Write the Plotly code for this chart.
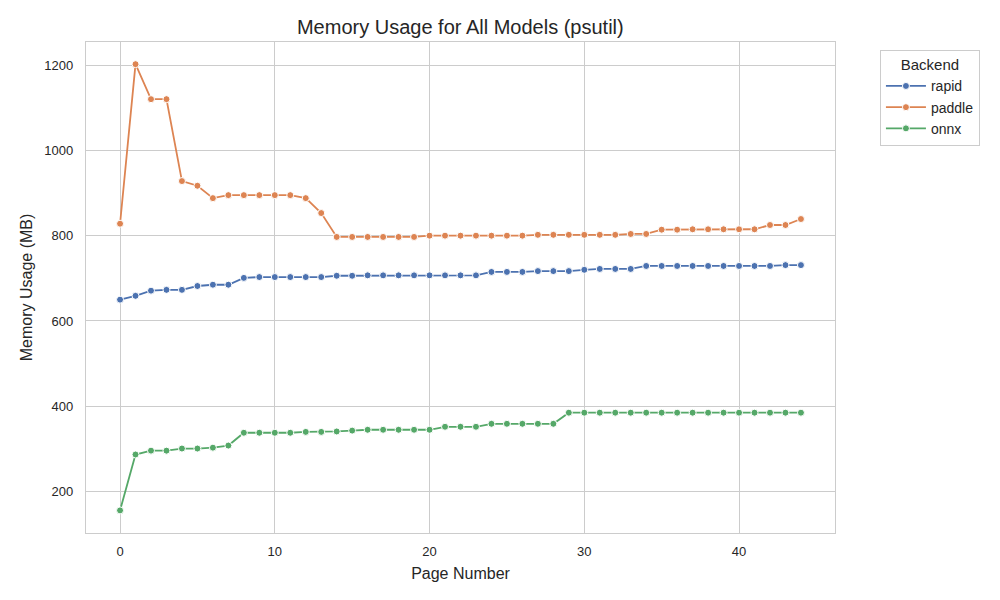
import plotly.graph_objects as go

pages = list(range(45))
rapid = [650, 659, 671, 673, 673, 682, 685, 685, 701, 703, 703, 703, 703, 703, 706, 706,
         707, 707, 707, 707, 707, 707, 707, 707, 715, 715, 715, 717, 717, 717, 720,
         722, 722, 722, 729, 729, 729, 729, 729, 729, 729, 729, 729, 731, 731]
paddle = [828, 1202, 1120, 1120, 928, 917, 888, 895, 895, 895, 895, 895, 888, 853, 797, 797,
          797, 797, 797, 797, 800, 800, 800, 800, 800, 800, 800, 802, 802, 802, 802,
          802, 802, 804, 804, 814, 814, 815, 815, 815, 815, 815, 825, 825, 839]
onnx = [156, 287, 296, 296, 301, 301, 303, 308, 338, 338, 338, 338, 340, 340, 341, 343,
        345, 345, 345, 345, 345, 352, 352, 352, 359, 359, 359, 359, 359, 385, 385,
        385, 385, 385, 385, 385, 385, 385, 385, 385, 385, 385, 385, 385, 385]

series = [("rapid", rapid, "#4C72B0"), ("paddle", paddle, "#DD8452"), ("onnx", onnx, "#55A868")]

font = "Liberation Sans, Arial, sans-serif"
fig = go.Figure()
for name, vals, col in series:
    fig.add_trace(go.Scatter(
        x=pages, y=vals, name=name, mode="lines+markers",
        line=dict(color=col, width=1.8),
        marker=dict(color=col, size=7, line=dict(color="white", width=1)),
    ))

# page body has an 8px margin, so the figure is drawn 8px smaller and offset
fig.update_layout(
    width=992, height=592,
    paper_bgcolor="white", plot_bgcolor="white",
    margin=dict(l=78, r=165, t=34, b=67),
    title=dict(text="Memory Usage for All Models (psutil)", x=0.456, xanchor="center",
               y=0.968, yanchor="middle", font=dict(family=font, size=20, color="#262626")),
    font=dict(family=font, size=13, color="#262626"),
    legend=dict(x=1.06, y=0.984, xanchor="left", yanchor="top",
                bordercolor="#cccccc", borderwidth=1, bgcolor="white",
                itemwidth=40,
                title=dict(text="Backend", side="top center", font=dict(size=15)),
                font=dict(size=14)),
)
fig.update_xaxes(range=[-2.2, 46.2], tickvals=[0, 10, 20, 30, 40], showgrid=True,
                 gridcolor="#cccccc", gridwidth=1, zeroline=False, showline=True,
                 linecolor="#cccccc", linewidth=1.3, mirror=True, ticks="",
                 ticklabelstandoff=6,
                 title=dict(text="Page Number", font=dict(size=16), standoff=10),
                 tickfont=dict(size=13))
fig.update_yaxes(range=[103, 1254], tickvals=[200, 400, 600, 800, 1000, 1200], showgrid=True,
                 gridcolor="#cccccc", gridwidth=1, zeroline=False, showline=True,
                 linecolor="#cccccc", linewidth=1.3, mirror=True, ticks="",
                 ticklabelstandoff=9,
                 title=dict(text="Memory Usage (MB)", font=dict(size=16), standoff=7),
                 tickfont=dict(size=13))

fig.write_html("out.html")
